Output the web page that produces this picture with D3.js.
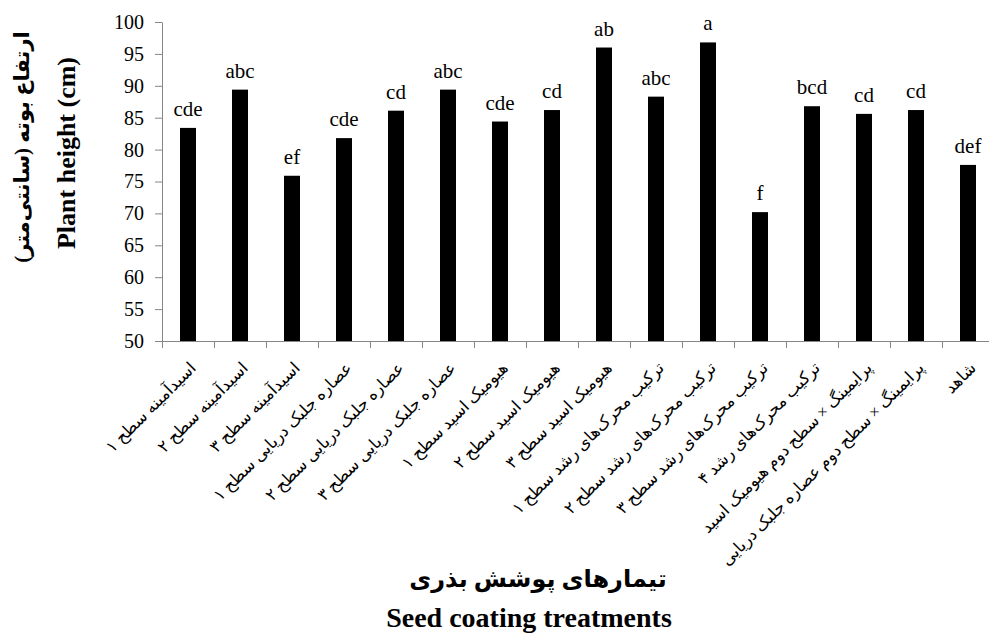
<!DOCTYPE html>
<html>
<head>
<meta charset="utf-8">
<script src="https://cdn.jsdelivr.net/npm/d3@7"></script>
<style>
  html, body { margin: 0; padding: 0; background: #fff; }
  svg { display: block; }
</style>
</head>
<body>
<svg id="chart" width="989" height="635"></svg>
<script>
// ---- data ----
const categories = [
  "اسیدآمینه سطح ۱",
  "اسیدآمینه سطح ۲",
  "اسیدآمینه سطح ۳",
  "عصاره جلبک دریایی سطح ۱",
  "عصاره جلبک دریایی سطح ۲",
  "عصاره جلبک دریایی سطح ۳",
  "هیومیک اسید سطح ۱",
  "هیومیک اسید سطح ۲",
  "هیومیک اسید سطح ۳",
  "ترکیب محرک‌های رشد سطح ۱",
  "ترکیب محرک‌های رشد سطح ۲",
  "ترکیب محرک‌های رشد سطح ۳",
  "ترکیب محرک‌های رشد ۴",
  "پرایمینگ × سطح دوم هیومیک اسید",
  "پرایمینگ × سطح دوم عصاره جلبک دریایی",
  "شاهد"
];
const heights = [83.4, 89.4, 75.9, 81.8, 86.1, 89.4, 84.4, 86.2, 96.0, 88.3, 96.8, 70.2, 86.8, 85.6, 86.2, 77.6];
const groups = ["cde", "abc", "ef", "cde", "cd", "abc", "cde", "cd", "ab", "abc", "a", "f", "bcd", "cd", "cd", "def"];
const yTicks = [50, 55, 60, 65, 70, 75, 80, 85, 90, 95, 100];
const yTitleFa = "ارتفاع بوته  (سانتی‌متر)";
const yTitleEn = "Plant height (cm)";
const xTitleFa = "تیمارهای پوشش بذری";
const xTitleEn = "Seed coating treatments";

// ---- layout ----
const svg = d3.select("#chart");
const plotL = 162, plotR = 994, plotT = 22, plotB = 341;
const axisColor = "#868686";
const latin = "'Liberation Serif', serif";
const farsi = "'Liberation Serif', 'DejaVu Sans', serif";

const x = d3.scaleBand().domain(categories).range([plotL, plotR])
  .paddingInner(0.6923).paddingOuter(0.3462);
const y = d3.scaleLinear().domain([50, 100]).range([plotB, plotT]);

// bars
svg.append("g").selectAll("rect").data(heights).join("rect")
  .attr("x", (d, i) => x(categories[i]))
  .attr("y", d => y(d))
  .attr("width", x.bandwidth())
  .attr("height", d => y(50) - y(d))
  .attr("fill", "#000");

// letters
svg.append("g").selectAll("text").data(heights).join("text")
  .attr("x", (d, i) => x(categories[i]) + x.bandwidth() / 2)
  .attr("y", d => y(d) - 12)
  .attr("text-anchor", "middle")
  .style("font-family", latin)
  .style("font-size", "21px")
  .attr("fill", "#000")
  .text((d, i) => groups[i]);

// y axis
const yAxis = d3.axisLeft(y).tickValues(yTicks).tickSizeInner(7).tickSizeOuter(0).tickPadding(11);
const gy = svg.append("g").attr("transform", `translate(${plotL},0)`).call(yAxis);
gy.select(".domain").attr("stroke", axisColor);
gy.selectAll(".tick line").attr("stroke", axisColor);
gy.selectAll(".tick text").style("font-family", latin).style("font-size", "20px").attr("fill", "#000");

// x axis (ticks at band boundaries)
const step = x.step();
const x0 = x.range()[0];
const gx = svg.append("g");
gx.append("line").attr("x1", x0).attr("x2", x.range()[1]).attr("y1", plotB + 0.5).attr("y2", plotB + 0.5)
  .attr("stroke", axisColor);
gx.selectAll("line.tk").data(d3.range(categories.length + 1)).join("line")
  .attr("class", "tk")
  .attr("x1", i => x0 + i * step + 0.5).attr("x2", i => x0 + i * step + 0.5)
  .attr("y1", plotB).attr("y2", plotB + 7)
  .attr("stroke", axisColor);

// x labels (rotated, RTL)
svg.append("g").selectAll("text").data(categories).join("text")
  .attr("transform", d => `translate(${x(d) + x.bandwidth() / 2 + 9},${plotB + 28}) rotate(-45)`)
  .attr("direction", "rtl")
  .attr("text-anchor", "start")
  .style("font-family", farsi)
  .style("font-size", "16.5px")
  .attr("fill", "#000")
  .text(d => d);

// y titles
svg.append("text")
  .attr("transform", `translate(29,147) rotate(-90)`)
  .attr("direction", "rtl")
  .attr("text-anchor", "middle")
  .style("font-family", farsi)
  .style("font-weight", "bold")
  .style("font-size", "21px")
  .text(yTitleFa);
svg.append("text")
  .attr("transform", `translate(75,153) rotate(-90)`)
  .attr("text-anchor", "middle")
  .style("font-family", latin)
  .style("font-weight", "bold")
  .style("font-size", "26px")
  .text(yTitleEn);

// x titles
svg.append("text")
  .attr("x", 538).attr("y", 587)
  .attr("direction", "rtl")
  .attr("text-anchor", "middle")
  .style("font-family", farsi)
  .style("font-weight", "bold")
  .style("font-size", "24px")
  .text(xTitleFa);
svg.append("text")
  .attr("x", 529).attr("y", 627)
  .attr("text-anchor", "middle")
  .style("font-family", latin)
  .style("font-weight", "bold")
  .style("font-size", "28px")
  .text(xTitleEn);
</script>
</body>
</html>
